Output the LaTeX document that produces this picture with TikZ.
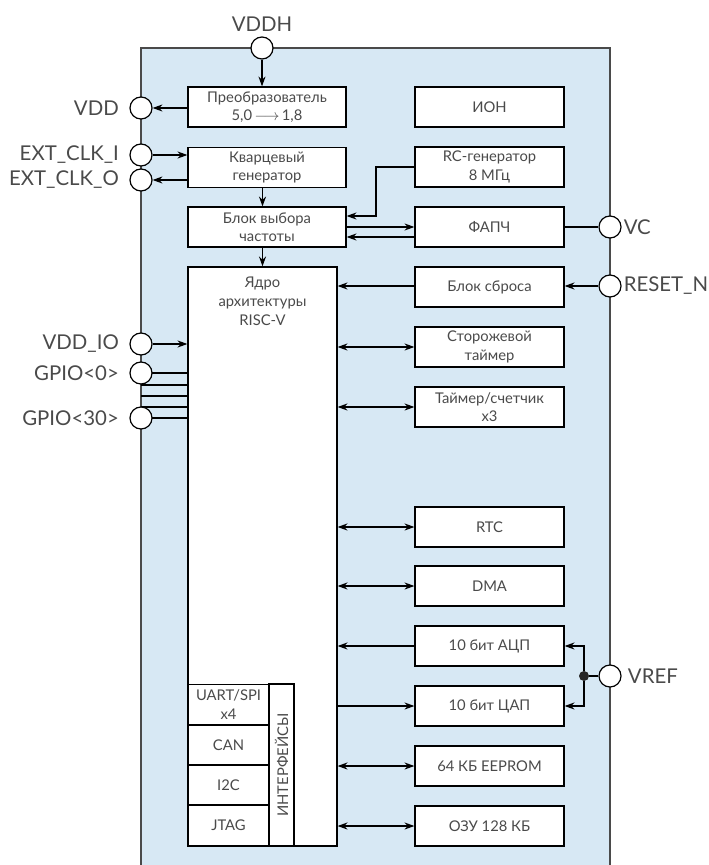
\documentclass[tikz,border=0pt]{standalone}
\usepackage{fontspec}
\setmainfont{Lato}
\usetikzlibrary{arrows.meta,positioning}
\usetikzlibrary{calc}
\definecolor{chipfill}{HTML}{D7E8F4}
\definecolor{chipline}{HTML}{4A4A4A}
\definecolor{txtgray}{HTML}{4A4A4A}

\begin{document}
\begin{tikzpicture}[
  x=0.025cm, y=-0.025cm,
  >={Stealth[length=7pt,width=5pt]},
  block/.style={draw=black, fill=white, line width=0.85pt, minimum width=3.725cm,
    minimum height=1cm, inner sep=1pt, align=center,
    font=\fontsize{10.5}{13}\selectfont, text=txtgray},
  wideblock/.style={block, minimum width=3.95cm},
  cell/.style={block, minimum width=2.025cm},
  pin/.style={circle, draw=black, fill=white, line width=0.85pt, minimum size=0.55cm, inner sep=0pt},
  pinlabel/.style={font=\fontsize{14.5}{16}\selectfont, text=txtgray},
  dot/.style={circle, fill=black!85, inner sep=0pt, minimum size=0.25cm},
  wire/.style={line width=0.85pt}
]
\useasboundingbox (0,0) rectangle (708,865);

% ==================
% Chip outline
% ==================
\fill[chipfill] (141,48) rectangle (610,865);
\draw[chipline, line width=1.4pt] (141,865) -- (141,48) -- (610,48) -- (610,865);

% ==================
% Left column
% ==================
\node[wideblock] (conv) at (267,107) {Преобразователь\\5,0\,$\longrightarrow$\,1,8};
\node[wideblock] (xtal) at (267,167.5) {Кварцевый\\генератор};
\node[wideblock] (fsel) at (267,227) {Блок выбора\\частоты};
\node[block, minimum height=14.475cm] (core) at (262.5,556.5) {};
\node[block, draw=none, fill=none, anchor=north, font=\fontsize{10.5}{13.5}\selectfont] (coretitle) at (262.5,275) {Ядро\\архитектуры\\RISC-V};

% Interfaces
\node[cell] (uart) at (228.5,704.5) {UART/SPI\\x4};
\node[cell] (can) at (228.5,745) {CAN};
\node[cell] (i2c) at (228.5,785) {I2C};
\node[cell] (jtag) at (228.5,825.5) {JTAG};
\node[block, minimum width=4.05cm, minimum height=0.625cm, rotate=90] (iface) at (281.5,765) {ИНТЕРФЕЙСЫ};

% ==================
% Right column
% ==================
\node[block] (ion) at (489.5,107) {ИОН};
\node[block] (rc) at (489.5,167) {RC-генератор\\8 МГц};
\node[block] (pll) at (489.5,227) {ФАПЧ};
\node[block] (rst) at (489.5,287) {Блок сброса};
\node[block] (wdt) at (489.5,347) {Сторожевой\\таймер};
\node[block] (tmr) at (489.5,407) {Таймер/счетчик\\x3};
\node[block] (rtc) at (489.5,527) {RTC};
\node[block] (dma) at (489.5,586) {DMA};
\node[block] (adc) at (489.5,646) {10 бит АЦП};
\node[block] (dac) at (489.5,706) {10 бит ЦАП};
\node[block] (eep) at (489.5,766) {64 КБ EEPROM};
\node[block] (ram) at (489.5,826) {ОЗУ 128 КБ};

% ==================
% GPIO bus
% ==================
\foreach \y [count=\i] in {373,385,396,407,418} {
  \coordinate (gp\i) at (141,\y);
  \draw[wire] (gp\i) -- (gp\i -| core.west);
}

% ==================
% Pins
% ==================
\node[pin, label={[pinlabel]above:VDDH}] (vddh) at (262,48) {};
\node[pin, label={[pinlabel, label distance=4pt]left:VDD}] (vdd) at (141,108) {};
\node[pin, label={[pinlabel, label distance=4pt]left:EXT\_CLK\_I}] (clkin) at (141,155) {};
\node[pin, label={[pinlabel, label distance=4pt]left:EXT\_CLK\_O}] (clkout) at (141,180) {};
\node[pin, label={[pinlabel, label distance=4pt]left:VDD\_IO}] (vddio) at (141,344) {};
\node[pin, label={[pinlabel, label distance=4pt]left:GPIO<0>}] (gpio0) at (141,373) {};
\node[pin, label={[pinlabel, label distance=4pt]left:GPIO<30>}] (gpio30) at (141,418) {};
\node[pin, label={[pinlabel, label distance=-2pt]right:VC}] (vc) at (610,227) {};
\node[pin, label={[pinlabel, label distance=-2pt]right:RESET\_N}] (reset) at (610,286) {};
\node[pin, label={[pinlabel, label distance=1pt]right:VREF}] (vref) at (610,676) {};

% ==================
% Connections
% ==================
\draw[wire,->] (vddh) -- (vddh |- conv.north);
\draw[wire,->] (vdd -| conv.west) -- (vdd);
\draw[wire,->] (clkin) -- (clkin -| xtal.west);
\draw[wire,->] (clkout -| xtal.west) -- (clkout);
\draw[wire,->] (core.north |- xtal.south) -- (core.north |- fsel.north);
\draw[wire,->] (core.north |- fsel.south) -- (core.north);

\coordinate (rcbend) at (376,216);
\draw[wire,->] (rc.west) -| (rcbend) -- (rcbend -| fsel.east);
\draw[wire,->] (fsel.east) -- (pll.west);
\coordinate (pllout) at (415,237);
\draw[wire,->] (pllout) -- (pllout -| fsel.east);
\draw[wire] (pll.east) -- (vc);

\draw[wire,->] (reset) -- (reset -| rst.east);
\draw[wire,->] (reset -| rst.west) -- (reset -| core.east);
\draw[wire,->] (vddio) -- (vddio -| core.west);

\foreach \blk in {wdt,tmr,rtc,dma,eep,ram}
  \draw[wire,<->] (\blk.west -| core.east) -- (\blk.west);
\draw[wire,->] (adc.west) -- (adc.west -| core.east);
\draw[wire,->] (dac.west -| core.east) -- (dac.west);

\node[dot] (vjoin) at (584,676) {};
\draw[wire] (vref) -- (vjoin);
\draw[wire,->] (vjoin) |- (adc.east);
\draw[wire,->] (vjoin) |- (dac.east);
\end{tikzpicture}
\end{document}
